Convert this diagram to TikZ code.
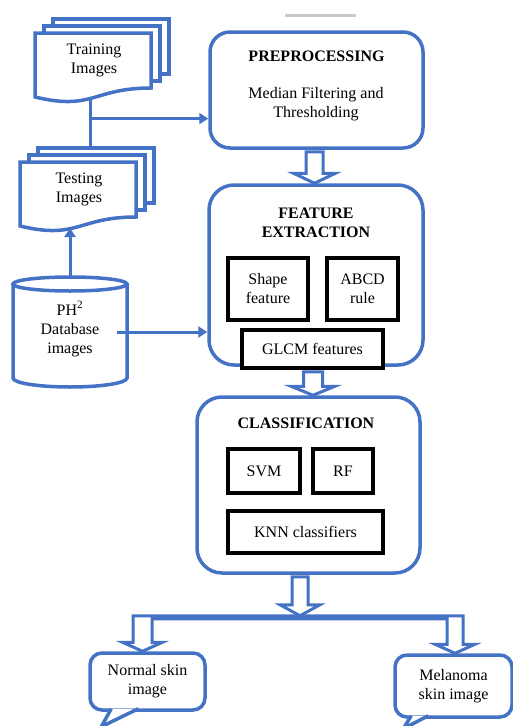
\documentclass[tikz,border=0pt]{standalone}
\usepackage{fontspec}
\setmainfont{Liberation Serif}
\usetikzlibrary{calc,arrows.meta}
\definecolor{flowblue}{HTML}{4472C4}
\definecolor{rulegray}{HTML}{C9C9C9}

\tikzset{
  wordnode/.style={font=\fontsize{16}{19}\selectfont, align=center, inner sep=0pt},
  headtext/.style={wordnode, font=\fontsize{16}{19}\selectfont\bfseries},
  blueline/.style={draw=flowblue, line width=3.5pt},
  stage/.style={blueline, fill=white, inner sep=0pt},
  algbox/.style={wordnode, draw=black, line width=3.5pt, fill=white},
  bubble/.style={wordnode, blueline, fill=white, rounded corners=12pt},
  hollow/.style={blueline, line width=3pt, fill=white, line join=miter},
  link/.style={draw=flowblue, line width=3pt},
  feedarrow/.style={link, -{Triangle[length=9pt,width=11pt]}},
}

% stack of three sheets with a wavy bottom edge; #1 name, #2/#3 top-left of front sheet, #4 text
\newcommand{\docstack}[4]{%
  \begin{scope}[shift={(#2,#3)}]
    \draw[blueline] (18,-7) -- (18,-14) -- (134,-14) -- (134,41) -- (125,41);
    \draw[blueline] (9,0) -- (9,-7) -- (125,-7) -- (125,48) -- (116,48);
    \draw[blueline, fill=white] (0,0) -- (116,0) -- (116,55)
      .. controls (58,55) and (58,78) .. (0,64) -- cycle;
    \node[wordnode, minimum width=116pt, minimum height=60pt] (#1) at (59,27) {#4};
    \coordinate (#1top) at (67,-14);
    \coordinate (#1foot) at (55,66);
  \end{scope}}

% wide hollow arrow pointing down; #1 start, #2 tip, #3 shaft half width, #4 head half width, #5 head length
\newcommand{\hollowdown}[5]{%
  \draw[hollow] let \p1=(#1), \p2=(#2) in
    (\x1-#3pt,\y1) -- (\x1+#3pt,\y1) -- (\x1+#3pt,\y2+#5pt) -- (\x1+#4pt,\y2+#5pt)
    -- (\x1,\y2) -- (\x1-#4pt,\y2+#5pt) -- (\x1-#3pt,\y2+#5pt) -- cycle;}

\begin{document}
\begin{tikzpicture}[x=1pt,y=-1pt]
\useasboundingbox (0,0) rectangle (513,726);

% thin rule at the top
\draw[rulegray, line width=3pt] (285,15) -- (356,15);

% image sets
\docstack{train}{35}{33}{Training\\Images}
\docstack{test}{20}{162}{Testing\\Images}

% database cylinder
\draw[blueline, fill=white] (13,284) -- (13,378)
  arc[start angle=180, end angle=360, x radius=57pt, y radius=9pt] -- (127,284);
\draw[blueline] (70,284) ellipse [x radius=57pt, y radius=7pt];
\node[wordnode, minimum width=114pt, minimum height=106pt] (db) at (70,329)
  {PH\textsuperscript{2}\\Database\\images};

% preprocessing stage
\node[stage, rounded corners=20pt, minimum width=213pt, minimum height=116pt] (prep) at (316.5,90) {};
\node[headtext] (prep-title) at (316.5,56) {PREPROCESSING};
\node[wordnode] (prep-body) at (316,104) {Median Filtering and\\Thresholding};

% feature extraction stage
\node[stage, rounded corners=25pt, minimum width=214pt, minimum height=180pt] (feat) at (316,275) {};
\node[headtext] (feat-title) at (316,223) {FEATURE\\EXTRACTION};
\node[algbox, minimum width=80pt, minimum height=62pt] (shape) at (268,289) {Shape\\feature};
\node[algbox, minimum width=71pt, minimum height=62pt] (abcd) at (362.5,289) {ABCD\\rule};
\node[algbox, minimum width=141pt, minimum height=38pt] (glcm) at (312.5,349) {GLCM features};

% classification stage
\node[stage, rounded corners=25pt, minimum width=223pt, minimum height=176pt] (class) at (308.5,485) {};
\node[headtext] (class-title) at (306,423) {CLASSIFICATION};
\node[algbox, minimum width=72pt, minimum height=44pt] (svm) at (264,471) {SVM};
\node[algbox, minimum width=60pt, minimum height=44pt] (rf) at (343,471) {RF};
\node[algbox, minimum width=155pt, minimum height=42pt] (knn) at (305.5,532) {KNN classifiers};

% outcome callouts
\node[bubble, minimum width=115pt, minimum height=57pt] (normal) at (147.5,681.5) {Normal skin\\image};
\node[bubble, minimum width=117pt, minimum height=62pt] (melan) at (453.5,686) {Melanoma\\skin image};
\draw[blueline, fill=white, line join=miter]
  ($(normal.south west)+(23,-3)$) -- ($(normal.south west)+(13,15)$) -- ($(normal.south west)+(50,-3)$);
\draw[blueline, fill=white, line join=miter]
  ($(melan.south west)+(18,-3)$) -- ($(melan.south west)+(10,10)$) -- ($(melan.south west)+(35,-3)$);

% inputs
\draw[link] (trainfoot) -- (trainfoot |- testtop);
\coordinate (split) at ($(trainfoot)!0.4!(trainfoot |- testtop)$);
\draw[feedarrow] (split) -- (split -| prep.west);
\draw[feedarrow] (db.north) -- (db.north |- testfoot);
\coordinate (dbout) at ($(db.east)+(-10,3)$);
\draw[feedarrow] (dbout) -- (dbout -| feat.west);

% stage to stage
\hollowdown{[shift={(-2,2)}]prep.south}{[xshift=-2pt]feat.north}{8.5}{21}{10}
\hollowdown{[shift={(-3,5)}]feat.south}{[xshift=-3pt]class.north}{9.5}{22}{9}
\coordinate (fork) at ($(class.south)+(-8.5,41)$);
\hollowdown{[shift={(-8.5,2)}]class.south}{fork}{8}{20}{11}

% split into the two outcomes
\draw[hollow] let \p1=(fork), \p2=([xshift=-5pt]normal.north), \p3=([xshift=1.5pt]melan.north) in
  (\x2-9.5pt,\y1) -- (\x3+8pt,\y1) -- (\x3+8pt,\y3+9pt) -- (\x3+20pt,\y3+9pt) -- (\x3,\y3)
  -- (\x3-20pt,\y3+9pt) -- (\x3-8pt,\y3+9pt) -- (\x3-8pt,\y1-3pt) -- (\x2+9.5pt,\y1-3pt)
  -- (\x2+9.5pt,\y2+9pt) -- (\x2+20pt,\y2+9pt) -- (\x2,\y2) -- (\x2-20pt,\y2+9pt)
  -- (\x2-9.5pt,\y2+9pt) -- cycle;
\end{tikzpicture}
\end{document}
